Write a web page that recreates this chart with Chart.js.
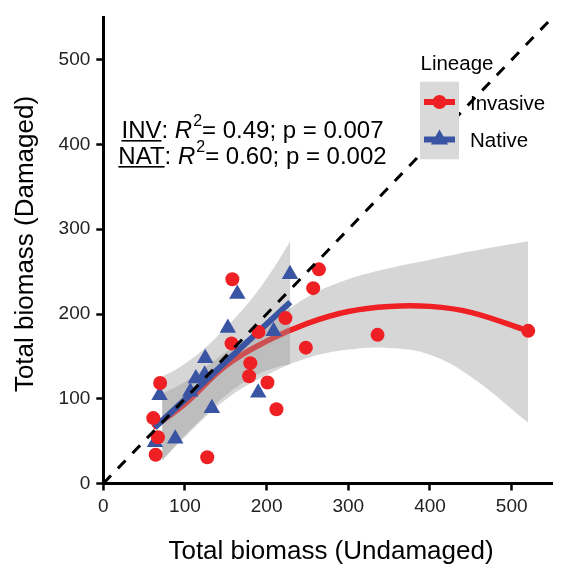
<!DOCTYPE html>
<html>
<head>
<meta charset="utf-8">
<script src="https://cdn.jsdelivr.net/npm/chart.js@4.4.0/dist/chart.umd.min.js"></script>
<style>
  html, body { margin: 0; padding: 0; background: #fff; }
  canvas { display: block; }
</style>
</head>
<body>
<canvas id="biomassChart" width="562" height="566"></canvas>
<script>
const FONT = "'Liberation Sans', Arial, Helvetica, sans-serif";

// observed points, undamaged (x) vs damaged (y)
const invX = [158, 264, 257, 223, 190, 157, 248, 180, 178.5, 201, 212, 69.6, 61.2, 66.9, 64.1, 127.3, 335.8, 520.3];
const invY = [241, 252.7, 230.5, 195.2, 178.9, 165.3, 160.3, 142, 126.5, 119.1, 87.6, 118.6, 77.2, 54.5, 34, 30.9, 175.4, 180.1];
const natX = [228.6, 164.1, 152.5, 208.5, 124.8, 113.3, 124.1, 106.5, 68.9, 189.7, 132.9, 88.1, 63.3];
const natY = [246.9, 223.5, 183.6, 179.7, 147.8, 123.8, 128.4, 108.2, 104, 107, 88.8, 52.7, 48.7];

// fitted curves
const invFitX = [61, 100, 150, 200, 250, 300, 350, 400, 450, 520];
const invFitY = [66, 94, 139, 168, 189, 203, 209, 209, 202, 180];
const natFitX = [63, 229];
const natFitY = [66, 214];

// confidence bands
const invBandX = [72, 100, 150, 200, 250, 300, 350, 400, 450, 520];
const invBandHi = [106, 120, 155, 186, 220, 241, 254, 264, 274, 286];
const invBandLo = [27, 55, 99, 128, 148, 158, 160, 152, 126, 72];
const natBandX = [72, 90, 120, 150, 180, 205, 229];
const natBandHi = [126, 135, 156, 184, 216, 249, 286];
const natBandLo = [27, 47, 76, 104, 124, 135, 141];

// 1:1 reference
const oneX = [0, 550];
const oneY = [0, 550];

const RED = '#EE2024';
const BLUE = '#3A54A4';
const BAND = 'rgba(153,153,153,0.4)';

const toXY = (xs, ys) => xs.map((x, i) => ({ x: x, y: ys[i] }));

const band = (xs, ys, fill, order) => ({
  data: toXY(xs, ys), showLine: true, borderWidth: 0, pointRadius: 0,
  tension: 0.4, fill: fill, backgroundColor: BAND, order: order
});

function drawRich(c, parts, cx, baseline) {
  const fontOf = p => (p.i ? 'italic ' : '') + (p.sup ? 16 : 24) + 'px ' + FONT;
  const widths = parts.map(p => { c.font = fontOf(p); return c.measureText(p.t).width + (p.dx || 0); });
  let x = cx - widths.reduce((a, b) => a + b, 0) / 2;
  parts.forEach((p, i) => {
    c.font = fontOf(p);
    c.fillText(p.t, x + (p.dx || 0), p.sup ? baseline - 12 : baseline);
    if (p.u) c.fillRect(x, baseline + 2.5, widths[i], 1.6);
    x += widths[i];
  });
}

const extras = {
  id: 'extras',
  afterDraw(chart) {
    const c = chart.ctx;
    c.save();
    c.fillStyle = '#000';
    c.textBaseline = 'alphabetic';

    // axis titles
    c.font = '26px ' + FONT;
    c.textAlign = 'center';
    c.fillText('Total biomass (Undamaged)', 331, 558.5);
    c.save();
    c.translate(33, 244);
    c.rotate(-Math.PI / 2);
    c.fillText('Total biomass (Damaged)', 0, 0);
    c.restore();

    // stats text
    c.textAlign = 'left';
    drawRich(c, [{ t: 'INV', u: true }, { t: ': ' }, { t: 'R', i: true }, { t: '2', sup: true, dx: 1 }, { t: '= 0.49; p = 0.007' }], 252.5, 137.5);
    drawRich(c, [{ t: 'NAT', u: true }, { t: ': ' }, { t: 'R', i: true }, { t: '2', sup: true, dx: 1 }, { t: '= 0.60; p = 0.002' }], 252.5, 163.5);

    // legend
    c.font = '20.5px ' + FONT;
    c.fillText('Lineage', 420.5, 70);
    c.fillStyle = '#D9D9D9';
    c.fillRect(420, 81.7, 39, 77.6);
    c.fillStyle = RED;
    c.fillRect(424, 99, 31, 6);
    Chart.helpers.drawPoint(c, { pointStyle: 'circle', radius: 7, borderWidth: 0 }, 439.5, 102);
    c.fillStyle = BLUE;
    c.fillRect(424, 136.5, 31, 6);
    Chart.helpers.drawPoint(c, { pointStyle: 'triangle', radius: 10, borderWidth: 0 }, 439.5, 139.5);
    c.fillStyle = '#000';
    c.fillText('Invasive', 470, 109.5);
    c.fillText('Native', 470, 146.7);
    c.restore();
  }
};

const axisStyle = {
  type: 'linear', min: 0, max: 550,
  grid: { drawOnChartArea: false, drawTicks: true, tickLength: 7, tickWidth: 2.5, tickColor: '#000' },
  border: { display: true, color: '#000', width: 3 },
};

new Chart(document.getElementById('biomassChart').getContext('2d'), {
  type: 'scatter',
  data: {
    datasets: [
      { label: '1:1', data: toXY(oneX, oneY), showLine: true, borderColor: '#000', borderWidth: 3,
        borderDash: [11, 10], pointRadius: 0, order: 0 },
      { label: 'Invasive', data: toXY(invX, invY), pointStyle: 'circle', pointRadius: 7,
        backgroundColor: RED, borderWidth: 0, order: 1 },
      { label: 'Native', data: toXY(natX, natY), pointStyle: 'triangle', pointRadius: 9.5,
        backgroundColor: BLUE, borderWidth: 0, order: 1 },
      { data: toXY(natFitX, natFitY), showLine: true, borderColor: BLUE, borderWidth: 6, pointRadius: 0, order: 2 },
      band(natBandX, natBandHi, '+1', 3),
      band(natBandX, natBandLo, false, 3),
      { data: toXY(invFitX, invFitY), showLine: true, borderColor: RED, borderWidth: 5.5, pointRadius: 0,
        tension: 0.4, order: 4 },
      band(invBandX, invBandHi, '+1', 5),
      band(invBandX, invBandLo, false, 5)
    ]
  },
  options: {
    responsive: false,
    animation: false,
    events: [],
    layout: { padding: { top: 11.6, right: 0, left: 0, bottom: 0 } },
    scales: {
      x: Object.assign({}, axisStyle, {
        ticks: { stepSize: 100, includeBounds: false, padding: 5, color: '#222', font: { size: 19, family: FONT } },
        afterFit: s => { s.height = 82.5; }
      }),
      y: Object.assign({}, axisStyle, {
        ticks: { stepSize: 100, includeBounds: false, padding: 6, color: '#222', font: { size: 19, family: FONT } },
        afterFit: s => { s.width = 103.3; }
      })
    },
    plugins: {
      legend: { display: false },
      tooltip: { enabled: false }
    }
  },
  plugins: [extras]
});
</script>
</body>
</html>
